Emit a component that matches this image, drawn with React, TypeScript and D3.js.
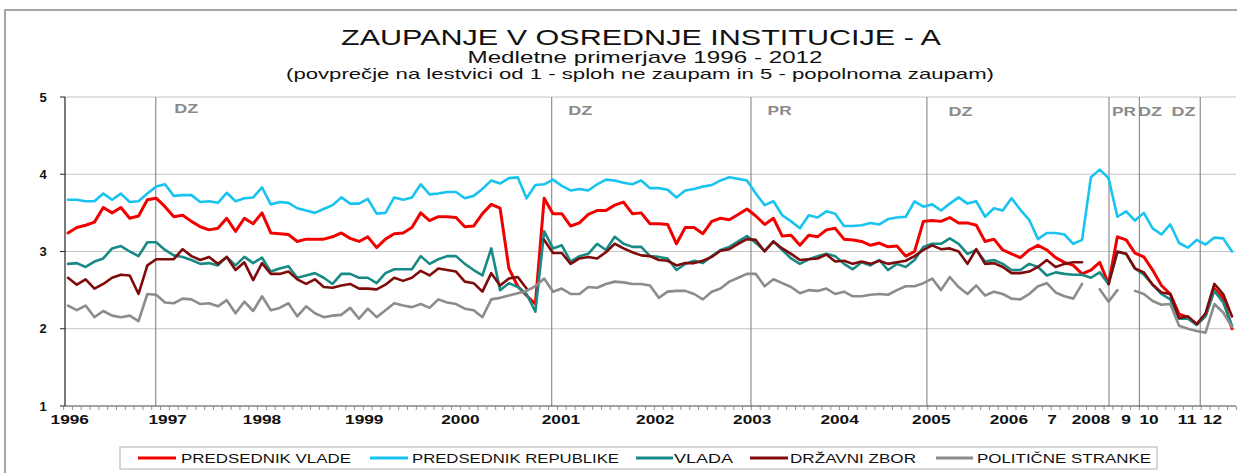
import { useMemo } from 'react'
import * as d3 from 'd3'

// Survey waves 1996 - 2012, one value per wave (null = no measurement)
const predsednikVlade: (number | null)[] = [
  3.24, 3.31, 3.34, 3.38, 3.57, 3.50, 3.57, 3.43, 3.46, 3.67,
  3.69, 3.58, 3.45, 3.47, 3.39, 3.32, 3.28, 3.30, 3.43, 3.26,
  3.43, 3.36, 3.50, 3.24, 3.23, 3.22, 3.13, 3.16, 3.16, 3.16,
  3.19, 3.24, 3.17, 3.13, 3.19, 3.05, 3.16, 3.23, 3.24, 3.31,
  3.50, 3.40, 3.45, 3.45, 3.44, 3.32, 3.33, 3.49, 3.61, 3.56,
  2.78, 2.55, 2.43, 2.32, 3.69, 3.49, 3.49, 3.33, 3.37, 3.48,
  3.53, 3.53, 3.60, 3.64, 3.49, 3.50, 3.36, 3.36, 3.35, 3.10,
  3.31, 3.31, 3.23, 3.39, 3.43, 3.41, 3.48, 3.55, 3.46, 3.35,
  3.43, 3.20, 3.21, 3.08, 3.21, 3.19, 3.28, 3.30, 3.16, 3.15,
  3.13, 3.08, 3.11, 3.06, 3.07, 2.94, 3.00, 3.39, 3.40, 3.39,
  3.44, 3.37, 3.37, 3.34, 3.13, 3.16, 3.02, 2.97, 2.92, 3.02,
  3.08, 3.02, 2.92, 2.86, 2.82, 2.71, 2.76, 2.86, 2.58, 3.19,
  3.15, 2.98, 2.93, 2.76, 2.56, 2.45, 2.19, 2.15, 2.06, 2.17,
  2.52, 2.40, 2.00,
]

const predsednikRepublike: (number | null)[] = [
  3.67, 3.67, 3.65, 3.65, 3.75, 3.67, 3.75, 3.64, 3.65, 3.75,
  3.84, 3.87, 3.72, 3.73, 3.73, 3.64, 3.65, 3.63, 3.76, 3.65,
  3.69, 3.70, 3.83, 3.61, 3.64, 3.63, 3.56, 3.53, 3.50, 3.55,
  3.60, 3.70, 3.62, 3.62, 3.68, 3.49, 3.50, 3.70, 3.67, 3.70,
  3.87, 3.74, 3.75, 3.77, 3.77, 3.69, 3.72, 3.81, 3.92, 3.88,
  3.95, 3.96, 3.69, 3.86, 3.87, 3.93, 3.85, 3.79, 3.81, 3.79,
  3.87, 3.93, 3.92, 3.89, 3.87, 3.92, 3.82, 3.82, 3.80, 3.70,
  3.79, 3.81, 3.84, 3.86, 3.92, 3.96, 3.94, 3.92, 3.75, 3.60,
  3.65, 3.47, 3.39, 3.30, 3.47, 3.44, 3.52, 3.49, 3.33, 3.33,
  3.34, 3.37, 3.35, 3.42, 3.44, 3.45, 3.65, 3.58, 3.61, 3.53,
  3.62, 3.70, 3.62, 3.65, 3.45, 3.56, 3.53, 3.69, 3.54, 3.41,
  3.16, 3.24, 3.24, 3.22, 3.10, 3.15, 3.96, 4.06, 3.95, 3.45,
  3.52, 3.40, 3.50, 3.30, 3.22, 3.35, 3.11, 3.05, 3.15, 3.09,
  3.18, 3.17, 3.00,
]

const vlada: (number | null)[] = [
  2.84, 2.85, 2.80, 2.87, 2.91, 3.04, 3.07, 3.00, 2.94, 3.12,
  3.12, 3.02, 2.95, 2.93, 2.89, 2.84, 2.85, 2.82, 2.93, 2.82,
  2.93, 2.85, 2.92, 2.74, 2.78, 2.81, 2.66, 2.69, 2.72, 2.66,
  2.58, 2.71, 2.71, 2.66, 2.66, 2.59, 2.72, 2.77, 2.77, 2.77,
  2.94, 2.84, 2.90, 2.94, 2.94, 2.84, 2.76, 2.69, 3.04, 2.50,
  2.59, 2.54, 2.45, 2.22, 3.26, 3.04, 3.08, 2.87, 2.94, 2.97,
  3.10, 3.02, 3.19, 3.10, 3.06, 3.06, 2.94, 2.93, 2.91, 2.76,
  2.84, 2.88, 2.85, 2.94, 3.02, 3.06, 3.13, 3.20, 3.11, 3.01,
  3.13, 3.02, 2.91, 2.84, 2.90, 2.94, 2.97, 2.94, 2.84, 2.77,
  2.86, 2.82, 2.89, 2.76, 2.84, 2.80, 2.89, 3.06, 3.10, 3.10,
  3.17, 3.10, 2.97, 3.02, 2.87, 2.89, 2.84, 2.76, 2.76, 2.84,
  2.80, 2.69, 2.73, 2.71, 2.70, 2.70, 2.66, 2.73, 2.58, 2.99,
  2.97, 2.78, 2.70, 2.57, 2.45, 2.38, 2.13, 2.13, 2.05, 2.16,
  2.49, 2.34, 2.04,
]

const drzavniZbor: (number | null)[] = [
  2.66, 2.57, 2.64, 2.52, 2.58, 2.66, 2.70, 2.69, 2.45, 2.82,
  2.90, 2.90, 2.90, 3.03, 2.94, 2.89, 2.93, 2.84, 2.93, 2.76,
  2.86, 2.63, 2.85, 2.71, 2.71, 2.74, 2.64, 2.58, 2.64, 2.54,
  2.53, 2.56, 2.58, 2.52, 2.52, 2.51, 2.57, 2.66, 2.62, 2.66,
  2.75, 2.69, 2.78, 2.76, 2.74, 2.61, 2.59, 2.48, 2.72, 2.56,
  2.65, 2.67, 2.52, null, 3.15, 2.98, 2.98, 2.84, 2.91, 2.93,
  2.91, 2.99, 3.10, 3.04, 2.99, 2.95, 2.94, 2.89, 2.88, 2.82,
  2.85, 2.85, 2.88, 2.93, 3.01, 3.03, 3.10, 3.16, 3.15, 3.00,
  3.13, 3.04, 2.97, 2.89, 2.90, 2.91, 2.96, 2.87, 2.88, 2.84,
  2.87, 2.84, 2.88, 2.84, 2.86, 2.88, 2.94, 3.02, 3.08, 3.03,
  3.04, 3.00, 2.84, 3.03, 2.84, 2.85, 2.80, 2.72, 2.72, 2.74,
  2.80, 2.89, 2.80, 2.84, 2.86, 2.86, null, null, 2.58, 3.00,
  2.97, 2.78, 2.73, 2.57, 2.47, 2.45, 2.14, 2.16, 2.06, 2.20,
  2.58, 2.45, 2.16,
]

const politicneStranke: (number | null)[] = [
  2.30, 2.24, 2.30, 2.15, 2.23, 2.17, 2.15, 2.17, 2.10, 2.45,
  2.44, 2.34, 2.33, 2.39, 2.38, 2.32, 2.33, 2.29, 2.37, 2.20,
  2.35, 2.23, 2.42, 2.24, 2.27, 2.33, 2.16, 2.29, 2.20, 2.15,
  2.17, 2.18, 2.27, 2.13, 2.26, 2.15, 2.24, 2.33, 2.30, 2.28,
  2.32, 2.27, 2.38, 2.34, 2.32, 2.26, 2.24, 2.15, 2.38, 2.40,
  2.43, 2.46, 2.49, 2.55, 2.65, 2.48, 2.52, 2.45, 2.45, 2.54,
  2.53, 2.58, 2.61, 2.60, 2.58, 2.58, 2.56, 2.40, 2.48, 2.49,
  2.49, 2.45, 2.38, 2.48, 2.52, 2.61, 2.66, 2.71, 2.71, 2.55,
  2.64, 2.59, 2.54, 2.46, 2.50, 2.49, 2.52, 2.45, 2.48, 2.42,
  2.42, 2.44, 2.45, 2.44, 2.50, 2.55, 2.55, 2.59, 2.65, 2.50,
  2.67, 2.54, 2.45, 2.56, 2.43, 2.48, 2.45, 2.39, 2.38, 2.45,
  2.55, 2.59, 2.47, 2.42, 2.39, 2.58, null, 2.51, 2.35, 2.50,
  null, 2.49, 2.45, 2.36, 2.31, 2.32, 2.04, 2.00, 1.97, 1.95,
  2.32, 2.21, 2.02,
]

const seriesNames = ['PREDSEDNIK VLADE', 'PREDSEDNIK REPUBLIKE', 'VLADA', 'DRŽAVNI ZBOR', 'POLITIČNE STRANKE']

// year labels and the wave (index) where each one sits
const yearLabels = ['1996', '1997', '1998', '1999', '2000', '2001', '2002', '2003', '2004', '2005', '2006', '7', '2008', '9', '10', '11', '12']
const yearAt = [0.2, 11.3, 22.0, 33.6, 44.5, 55.9, 66.6, 77.6, 87.5, 97.9, 106.7, 111.6, 116.0, 120.0, 122.6, 126.9, 129.8]

// elections: DZ = parliament, PR = president
const eventLabels = ['DZ', 'DZ', 'PR', 'DZ', 'PR', 'DZ', 'DZ']
const eventAt = [9.95, 54.85, 77.45, 97.4, 118.05, 121.5, 128.4]
const eventLabelAt = [13.4, 58.1, 80.7, 101.2, 119.75, 122.7, 126.5]

const yTicks = [1, 2, 3, 4, 5]

const W = 1237
const H = 473
const FONT = 'Arial, "Liberation Sans", sans-serif'

export default function App() {
  const allSeries = [predsednikVlade, predsednikRepublike, vlada, drzavniZbor, politicneStranke]
  const colors = ['#f20000', '#19c3ef', '#178a86', '#7f0a0a', '#8c8c8c']
  const n = predsednikVlade.length

  const x = useMemo(() => d3.scaleLinear().domain([0, n - 1]).range([68, 1232]), [n])
  const y = d3.scaleLinear().domain([1, 5]).range([406, 97])
  const step = x(1) - x(0)

  const line = d3.line<number | null>()
    .defined(d => d != null)
    .x((_, i) => x(i))
    .y(d => y(d as number))

  const left = 65
  const right = 1236

  // legend layout: [line x1, line x2, text x, text length]
  const legendPos = [
    [138, 176, 181, 170],
    [370, 408, 412, 207],
    [636, 673, 674, 59],
    [750, 788, 790, 126],
    [936, 973, 977, 174],
  ]

  return (
    <svg width={W} height={H} style={{ position: 'absolute', left: 0, top: 0, background: '#fff' }}
      fontFamily={FONT}>
      {/* outer frame */}
      <rect x={5} y={10} width={W + 10} height={H + 10} fill="none" stroke="#a6a6a6" strokeWidth={2} />

      {/* titles */}
      <text x={641} y={45} textAnchor="middle" fontSize={22} textLength={600} lengthAdjust="spacingAndGlyphs" fill="#111">
        ZAUPANJE V OSREDNJE INSTITUCIJE - A
      </text>
      <text x={645} y={63} textAnchor="middle" fontSize={17} textLength={355} lengthAdjust="spacingAndGlyphs" fill="#111">
        Medletne primerjave 1996 - 2012
      </text>
      <text x={640} y={79} textAnchor="middle" fontSize={14.5} textLength={708} lengthAdjust="spacingAndGlyphs" fill="#111">
        (povprečje na lestvici od 1 - sploh ne zaupam in 5 - popolnoma zaupam)
      </text>

      {/* grid */}
      {yTicks.filter(t => t > 1).map(t => (
        <line key={t} x1={left} x2={right} y1={y(t)} y2={y(t)} stroke="#c4c4c4" strokeWidth={1} />
      ))}

      {/* election markers */}
      {eventAt.map((e, k) => (
        <g key={k}>
          <line x1={x(e)} x2={x(e)} y1={y(5)} y2={y(1)} stroke="#8f8f8f" strokeWidth={1.2} />
          <text x={x(eventLabelAt[k])} y={k === 0 ? 113 : k < 3 ? 115 : 116} textAnchor="middle" fontSize={13}
            fontWeight="bold" fill="#8a8a8a" textLength={24} lengthAdjust="spacingAndGlyphs">
            {eventLabels[k]}
          </text>
        </g>
      ))}

      {/* axes */}
      <line x1={left} x2={left} y1={y(5)} y2={y(1)} stroke="#222" strokeWidth={1.2} />
      <line x1={left} x2={right} y1={y(1)} y2={y(1)} stroke="#444" strokeWidth={1} />
      {yTicks.map(t => (
        <g key={t}>
          <line x1={left - 5} x2={left} y1={y(t)} y2={y(t)} stroke="#222" />
          <text x={43} y={y(t) + 4.5} textAnchor="middle" fontSize={13} fontWeight="bold" fill="#111">{t}</text>
        </g>
      ))}
      {d3.range(n + 1).map(i => (
        <line key={i} x1={x(i) - step / 2} x2={x(i) - step / 2} y1={y(1)} y2={y(1) + 4} stroke="#777" strokeWidth={0.8} />
      ))}
      {yearLabels.map((lab, k) => (
        <text key={lab} x={x(yearAt[k])} y={424} textAnchor="middle" fontSize={13.5} fontWeight="bold" fill="#111"
          textLength={lab.length * 9.6} lengthAdjust="spacingAndGlyphs">
          {lab}
        </text>
      ))}

      {/* series */}
      {allSeries.map((s, k) => (
        <path key={k} d={line(s) ?? ''} fill="none" stroke={colors[k]} strokeWidth={k === 0 ? 3 : 2.6}
          strokeLinejoin="round" strokeLinecap="round" />
      ))}

      {/* legend */}
      <rect x={120} y={447} width={1037} height={22} fill="#fff" stroke="#b0b0b0" strokeWidth={1} />
      {seriesNames.map((name, k) => (
        <g key={name}>
          <line x1={legendPos[k][0]} x2={legendPos[k][1]} y1={458} y2={458} stroke={colors[k]} strokeWidth={3} />
          <text x={legendPos[k][2]} y={463} fontSize={13} fill="#111" textLength={legendPos[k][3]}
            lengthAdjust="spacingAndGlyphs">
            {name}
          </text>
        </g>
      ))}
    </svg>
  )
}
